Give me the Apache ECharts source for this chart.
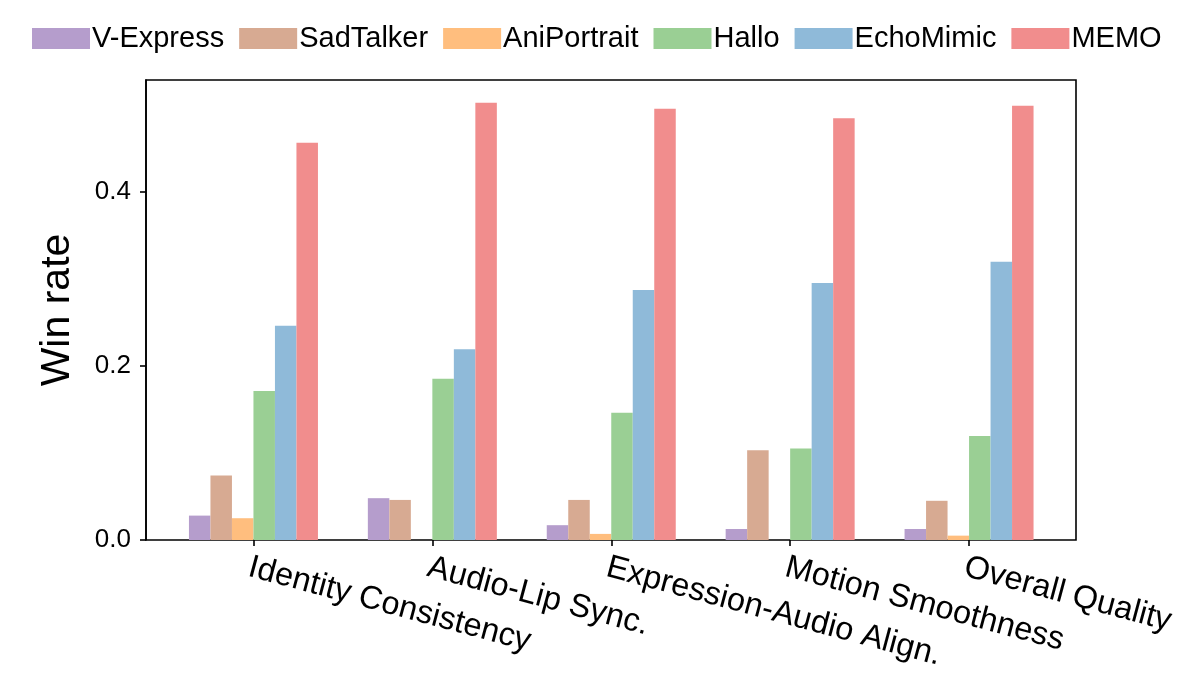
<!DOCTYPE html>
<html>
<head>
<meta charset="utf-8">
<script src="https://cdn.jsdelivr.net/npm/echarts@6/dist/echarts.min.js"></script>
<style>html,body{margin:0;padding:0;background:#fff;}#c{width:1196px;height:692px;}</style>
</head>
<body>
<div id="c"></div>
<script>
var categories = ['Identity Consistency', 'Audio-Lip Sync.', 'Expression-Audio Align.', 'Motion Smoothness', 'Overall Quality'];
var seriesNames = ['V-Express', 'SadTalker', 'AniPortrait', 'Hallo', 'EchoMimic', 'MEMO'];
var vExpress   = [0.028, 0.048, 0.017, 0.0126, 0.0126];
var sadTalker  = [0.074, 0.046, 0.046, 0.103, 0.045];
var aniPortrait = [0.025, 0.0, 0.007, 0.0, 0.005];
var hallo      = [0.171, 0.185, 0.146, 0.105, 0.1195];
var echoMimic  = [0.246, 0.219, 0.287, 0.295, 0.3195];
var memo       = [0.456, 0.502, 0.495, 0.484, 0.4985];
var yTickValues = [0.0, 0.2, 0.4];
var colors = ['#b59dcc', '#d7aa92', '#ffbe7e', '#9acf94', '#8fbad9', '#f18d8d'];
var allData = [vExpress, sadTalker, aniPortrait, hallo, echoMimic, memo];

var font = 'Liberation Sans, Arial, sans-serif';
var chart = echarts.init(document.getElementById('c'), null, {renderer: 'canvas'});
var series = seriesNames.map(function (n, i) {
  return {
    name: n, type: 'bar', xAxisIndex: 1, yAxisIndex: 1,
    data: allData[i], barWidth: 21.5, barGap: '0%',
    itemStyle: {color: colors[i]}, emphasis: {disabled: true}
  };
});
chart.setOption({
  animation: false,
  backgroundColor: '#fff',
  textStyle: {fontFamily: font},
  legend: {
    data: seriesNames, left: 27, top: 19, itemWidth: 58, itemHeight: 21, itemGap: 15,
    icon: 'rect',
    textStyle: {fontSize: 29, color: '#000', fontFamily: font, padding: [0, 0, 0, -3]}
  },
  grid: [
    {left: 146, right: 120, top: 80, bottom: 152, show: true, borderColor: '#000', borderWidth: 1.6, backgroundColor: 'transparent'},
    {left: 164, right: 137.5, top: 80, bottom: 152}
  ],
  xAxis: [
    {type: 'category', gridIndex: 0, data: categories, show: false},
    {type: 'category', gridIndex: 1, data: categories,
     axisLine: {show: false},
     axisTick: {show: true, alignWithLabel: true, length: 6, lineStyle: {color: '#000', width: 1.6}},
     axisLabel: {rotate: -15, fontSize: 32.5, color: '#000', fontFamily: font, margin: 11, verticalAlign: 'top', align: 'left', interval: 0}}
  ],
  yAxis: [
    {type: 'value', gridIndex: 0, min: 0, max: 0.528, interval: 0.2,
     name: 'Win rate', nameLocation: 'middle', nameGap: 68,
     nameTextStyle: {fontSize: 41, color: '#000', fontFamily: font},
     axisLine: {show: true, lineStyle: {color: '#000', width: 1.6}},
     axisTick: {show: true, length: 6, lineStyle: {color: '#000', width: 1.6}},
     splitLine: {show: false},
     axisLabel: {fontSize: 26, color: '#000', fontFamily: font, margin: 15,
       showMaxLabel: false,
       formatter: function (v) { return yTickValues.indexOf(Math.round(v * 10) / 10) >= 0 ? v.toFixed(1) : ''; }}},
    {type: 'value', gridIndex: 1, min: 0, max: 0.528, show: false, splitLine: {show: false}}
  ],
  series: series
});
</script>
</body>
</html>
